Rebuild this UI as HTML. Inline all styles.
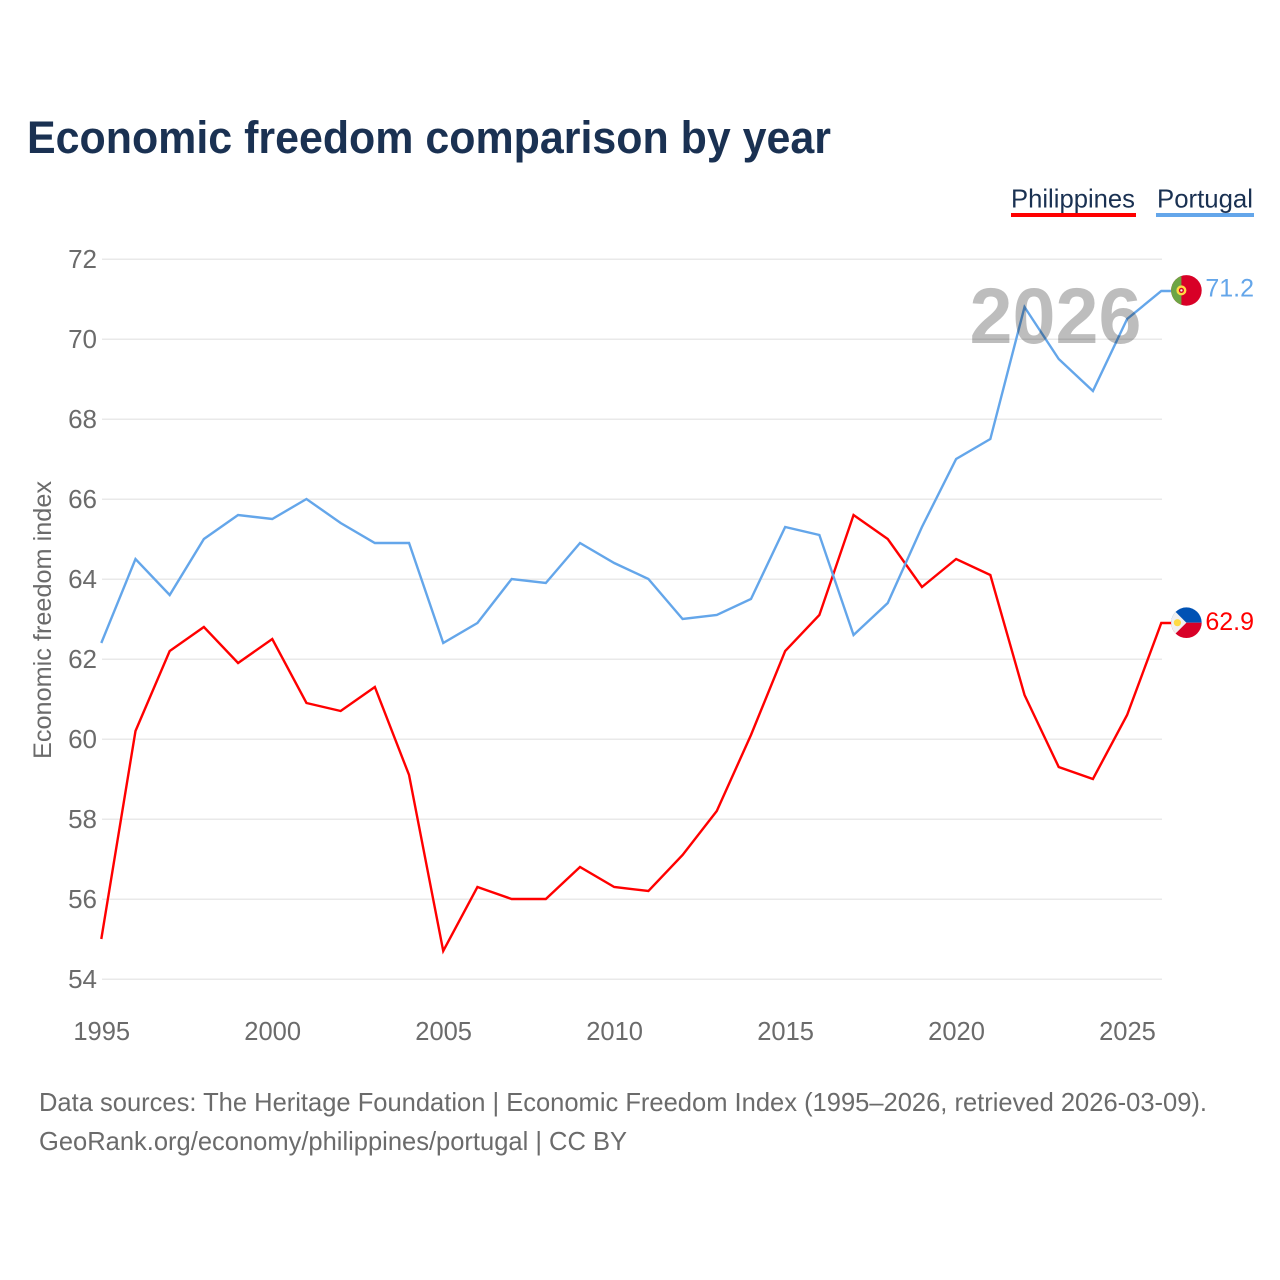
<!DOCTYPE html>
<html lang="en">
<head>
<meta charset="utf-8">
<title>Economic freedom comparison by year</title>
<style>
html,body{margin:0;padding:0;background:#fff;width:1280px;height:1280px;overflow:hidden}
svg{display:block}
text{font-family:"Liberation Sans",sans-serif}
</style>
</head>
<body>
<svg id="chart" xmlns="http://www.w3.org/2000/svg" width="1280" height="1280" viewBox="0 0 1280 1280">
  <rect x="0" y="0" width="1280" height="1280" fill="#fff"/>
  <text x="27" y="153" font-size="45" font-weight="700" fill="#1a3152" textLength="804" lengthAdjust="spacingAndGlyphs">Economic freedom comparison by year</text>

  <g>
    <text x="1011" y="207.5" font-size="26" fill="#1a3152" textLength="124" lengthAdjust="spacingAndGlyphs">Philippines</text>
    <rect x="1011" y="213" width="125" height="4" fill="#ff0000"/>
  </g>
  <g>
    <text x="1157" y="207.5" font-size="26" fill="#1a3152" textLength="96" lengthAdjust="spacingAndGlyphs">Portugal</text>
    <rect x="1156" y="213" width="98" height="4" fill="#64a6ea"/>
  </g>

  <g id="grid"></g>
  <g id="y-ticks"></g>
  <g id="x-ticks"></g>
  <text transform="translate(51 620) rotate(-90)" text-anchor="middle" font-size="25" fill="#6b6b6b" textLength="278" lengthAdjust="spacingAndGlyphs">Economic freedom index</text>

  <g id="series"></g>
  <text x="1055.5" y="343" text-anchor="middle" font-size="79" font-weight="700" fill="#000" fill-opacity="0.26" textLength="172" lengthAdjust="spacingAndGlyphs">2026</text>

  <defs>
    <clipPath id="clip-pt"><circle cx="0" cy="0" r="15.3"/></clipPath>
    <clipPath id="clip-ph"><circle cx="0" cy="0" r="15.3"/></clipPath>
  </defs>
  <g id="flag-portugal">
    <g clip-path="url(#clip-pt)">
      <rect x="-16" y="-16" width="32" height="32" fill="#d80027"/>
      <rect x="-16" y="-16" width="11" height="32" fill="#6da544"/>
      <circle cx="-5" cy="0" r="5" fill="#ffda44"/>
      <circle cx="-5" cy="0" r="2.6" fill="#d80027"/>
      <circle cx="-5" cy="0" r="1.2" fill="#f0f0f0"/>
    </g>
  </g>
  <g id="flag-philippines">
    <g clip-path="url(#clip-ph)">
      <rect x="-16" y="-16" width="32" height="16" fill="#0052b4"/>
      <rect x="-16" y="0" width="32" height="16" fill="#d80027"/>
      <polygon points="-17,-17 0,0 -17,17" fill="#f0f0f0"/>
      <circle cx="-9" cy="0" r="3.6" fill="#ffda44"/>
    </g>
  </g>
  <g id="end-labels"></g>

  <text x="39" y="1111" font-size="26" fill="#6b6b6b" textLength="1168" lengthAdjust="spacingAndGlyphs">Data sources: The Heritage Foundation | Economic Freedom Index (1995–2026, retrieved 2026-03-09).</text>
  <text x="39" y="1150" font-size="26" fill="#6b6b6b" textLength="588" lengthAdjust="spacingAndGlyphs">GeoRank.org/economy/philippines/portugal | CC BY</text>
</svg>
<script>
const years = [1995,1996,1997,1998,1999,2000,2001,2002,2003,2004,2005,2006,2007,2008,2009,2010,2011,2012,2013,2014,2015,2016,2017,2018,2019,2020,2021,2022,2023,2024,2025,2026];
const philippines = [55.0,60.2,62.2,62.8,61.9,62.5,60.9,60.7,61.3,59.1,54.7,56.3,56.0,56.0,56.8,56.3,56.2,57.1,58.2,60.1,62.2,63.1,65.6,65.0,63.8,64.5,64.1,61.1,59.3,59.0,60.6,62.9];
const portugal = [62.4,64.5,63.6,65.0,65.6,65.5,66.0,65.4,64.9,64.9,62.4,62.9,64.0,63.9,64.9,64.4,64.0,63.0,63.1,63.5,65.3,65.1,62.6,63.4,65.3,67.0,67.5,70.8,69.5,68.7,70.5,71.2];
const yTickLabels = [54,56,58,60,62,64,66,68,70,72];
const xTickLabels = [1995,2000,2005,2010,2015,2020,2025];

const NS = 'http://www.w3.org/2000/svg';
const xAt = function (year) { return 101.3 + (year - 1995) * (1161.3 - 101.3) / (2026 - 1995); };
const yAt = function (v) { return 979 - (v - 54) * 40; };

function make(tag, parent, attrs, content) {
  const el = document.createElementNS(NS, tag);
  Object.keys(attrs).forEach(function (k) { el.setAttribute(k, attrs[k]); });
  if (content !== undefined) el.textContent = content;
  parent.appendChild(el);
  return el;
}

const grid = document.getElementById('grid');
const yTicks = document.getElementById('y-ticks');
yTickLabels.forEach(function (v) {
  const line = make('line', grid, { x1: 102, x2: 1162, y1: yAt(v) + 0.2, y2: yAt(v) + 0.2, stroke: '#e2e2e2', 'stroke-width': 1.2 });
  
  
  const label = make('text', yTicks, { x: 97, y: yAt(v) + 9, 'text-anchor': 'end', 'font-size': 26, fill: '#6b6b6b' }, String(v));
  
  
});

const xTicks = document.getElementById('x-ticks');
xTickLabels.forEach(function (yr) {
  const label = make('text', xTicks, { x: xAt(yr) + 0.4, y: 1040, 'text-anchor': 'middle', 'font-size': 25.5, fill: '#6b6b6b' }, String(yr));
  
  
});

const seriesGroup = document.getElementById('series');
function drawSeries(values, color, name) {
  const pts = values.map(function (v, i) { return xAt(years[i]) + ',' + yAt(v); });
  const last = values[values.length - 1];
  pts.push((xAt(years[years.length - 1]) + 10) + ',' + yAt(last));
  const line = make('polyline', seriesGroup, { points: pts.join(' '), fill: 'none', stroke: color, 'stroke-width': 2.4, 'stroke-linejoin': 'miter' });
  
  
}
drawSeries(philippines, '#ff0000', 'line-philippines');
drawSeries(portugal, '#64a6ea', 'line-portugal');

const endLabels = document.getElementById('end-labels');
const ptLast = portugal[portugal.length - 1];
const phLast = philippines[philippines.length - 1];
document.getElementById('flag-portugal').setAttribute('transform', 'translate(1186.4 ' + (yAt(ptLast) - 0.6) + ')');
document.getElementById('flag-philippines').setAttribute('transform', 'translate(1186.4 ' + (yAt(phLast) - 0.3) + ')');
const ptLabel = make('text', endLabels, { x: 1254, y: yAt(ptLast) + 5.5, 'text-anchor': 'end', 'font-size': 25, fill: '#64a6ea' }, ptLast.toFixed(1));


const phLabel = make('text', endLabels, { x: 1254, y: yAt(phLast) + 7, 'text-anchor': 'end', 'font-size': 25, fill: '#ff0000' }, phLast.toFixed(1));


</script>
</body>
</html>
